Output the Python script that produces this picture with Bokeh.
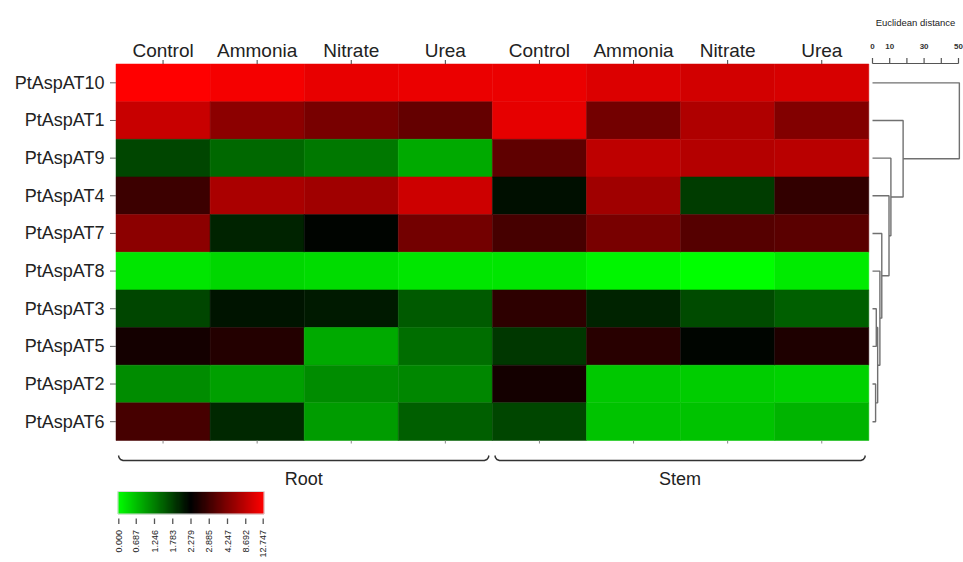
import numpy as np
from bokeh.plotting import figure
from bokeh.models import Range1d
from bokeh.core.properties import value
from bokeh.embed import file_html
from bokeh.resources import INLINE

# ---------------------------------------------------------------- data
genes = ["PtAspAT10", "PtAspAT1", "PtAspAT9", "PtAspAT4", "PtAspAT7",
         "PtAspAT8", "PtAspAT3", "PtAspAT5", "PtAspAT2", "PtAspAT6"]
tissues = ["Root", "Stem"]
treatments = ["Control", "Ammonia", "Nitrate", "Urea"]

# relative expression, one list per tissue/treatment column (gene order above)
root_control = [12.75, 9.25, 1.73, 2.85, 5.12, 0.27, 1.73, 2.47, 1.14, 3.02]
root_ammonia = [12.11, 5.12, 1.44, 7.21, 2.01, 0.43, 2.12, 2.61, 0.96, 1.97]
root_nitrate = [11.28, 4.09, 1.31, 6.51, 2.25, 0.38, 2.08, 0.87, 1.14, 1.00]
root_urea = [11.47, 3.66, 0.87, 9.57, 3.98, 0.27, 1.56, 1.39, 1.18, 1.52]
stem_control = [11.47, 11.16, 3.55, 2.16, 3.02, 0.27, 2.71, 1.85, 2.47, 1.73]
stem_ammonia = [10.52, 3.98, 8.60, 6.51, 4.09, 0.11, 2.01, 2.66, 0.59, 0.65]
stem_nitrate = [9.88, 7.56, 7.91, 1.81, 3.34, 0.00, 1.69, 2.24, 0.54, 0.65]
stem_urea = [10.20, 4.42, 8.26, 2.75, 3.45, 0.22, 1.52, 2.56, 0.49, 0.79]

# colour key break points (green -> black -> red)
scale_breaks = [0.000, 0.687, 1.246, 1.783, 2.279, 2.885, 4.247, 8.692, 12.747]
scale_labels = ["0.000", "0.687", "1.246", "1.783", "2.279",
                "2.885", "4.247", "8.692", "12.747"]

# hierarchical clustering of the genes (rows indexed in display order,
# merged clusters numbered from len(genes) upward)
link_left = [8, 6, 11, 5, 4, 3, 2, 1, 0]
link_right = [9, 7, 10, 12, 13, 14, 15, 16, 17]
link_dist = [1.8, 2.2, 3.0, 4.3, 5.4, 9.6, 10.7, 17.8, 50.5]

dist_ticks = [0, 10, 20, 30, 40, 50]
dist_tick_labels = ["0", "10", "", "30", "", "50"]

# ---------------------------------------------------------------- layout
W, H = 963, 562
HM_LEFT, HM_TOP = 115.5, 63.5
CELL_W, CELL_H = 94.1, 37.65
DEND_X0, DEND_PX = 872.0, 1.72
CB_LEFT, CB_RIGHT, CB_TOP, CB_BOTTOM = 117.5, 263.5, 491.0, 513.5

FONT = value("Liberation Sans")
TEXT_COLOR = "#222222"

columns = [root_control, root_ammonia, root_nitrate, root_urea,
           stem_control, stem_ammonia, stem_nitrate, stem_urea]
col_names = treatments * len(tissues)


def scale_pos(v):
    """Position (0..1) of a value on the colour key."""
    return np.interp(v, scale_breaks, np.linspace(0, 1, len(scale_breaks)))


def key_color(t):
    if t < 0.5:
        g = int(round(255 * (1 - 2 * t)))
        return "#%02x%02x%02x" % (0, g, 0)
    r = int(round(255 * (2 * t - 1)))
    return "#%02x%02x%02x" % (r, 0, 0)


def dist_x(d):
    return DEND_X0 + d * DEND_PX


def col_center(i):
    return HM_LEFT + (i + 0.5) * CELL_W


def row_center(j):
    return HM_TOP + (j + 0.5) * CELL_H


p = figure(width=W, height=H, output_backend="svg", toolbar_location=None,
           x_range=Range1d(0, W), y_range=Range1d(H, 0),
           min_border=0, outline_line_color=None,
           background_fill_color="white", border_fill_color="white")
p.xaxis.visible = False
p.yaxis.visible = False
p.xgrid.visible = False
p.ygrid.visible = False

# ---------------------------------------------------------------- heatmap
left, right, top, bottom, colors = [], [], [], [], []
for i, col in enumerate(columns):
    for j, v in enumerate(col):
        left.append(HM_LEFT + i * CELL_W)
        right.append(HM_LEFT + (i + 1) * CELL_W)
        top.append(HM_TOP + j * CELL_H)
        bottom.append(HM_TOP + (j + 1) * CELL_H)
        colors.append(key_color(float(scale_pos(v))))
p.quad(left=left, right=right, top=top, bottom=bottom,
       fill_color=colors, line_color=colors, line_width=0.5)

hm_bottom = HM_TOP + len(genes) * CELL_H

# column labels and tick marks
cx = [col_center(i) for i in range(len(columns))]
p.text(x=cx, y=[50] * len(cx), text=col_names, text_font=FONT,
       text_font_size="19px", text_align="center", text_baseline="middle",
       text_color=TEXT_COLOR)
p.segment(x0=cx, y0=[59.5] * len(cx), x1=cx, y1=[HM_TOP] * len(cx),
          line_color="#444444", line_width=1)
p.segment(x0=cx, y0=[hm_bottom] * len(cx), x1=cx, y1=[hm_bottom + 3] * len(cx),
          line_color="#888888", line_width=1)

# row labels and tick marks
ry = [row_center(j) for j in range(len(genes))]
p.text(x=[104] * len(ry), y=ry, text=genes, text_font=FONT,
       text_font_size="18px", text_align="right", text_baseline="middle",
       text_color=TEXT_COLOR)
p.segment(x0=[109.5] * len(ry), y0=ry, x1=[HM_LEFT] * len(ry), y1=ry,
          line_color="#666666", line_width=1)

# tissue braces
n_t = len(treatments)
for k, name in enumerate(tissues):
    x0 = HM_LEFT + k * n_t * CELL_W + 3
    x1 = HM_LEFT + (k + 1) * n_t * CELL_W - 4
    by = 460
    bx = [x0 - 0.5, x0, x0 + 1.5, x0 + 4, x1 - 4, x1 - 1.5, x1, x1 + 0.5]
    byy = [455, 457, 459, by, by, 459, 457, 455]
    p.line(bx, byy, line_color="#333333", line_width=1.4)
    p.text(x=[(x0 + x1) / 2], y=[478], text=[name], text_font=FONT,
           text_font_size="18px", text_align="center", text_baseline="middle",
           text_color=TEXT_COLOR)

# ---------------------------------------------------------------- dendrogram
node_y = list(ry)
node_d = [0.0] * len(genes)
xs, ys = [], []
for a, b, d in zip(link_left, link_right, link_dist):
    xs.append([dist_x(node_d[a]), dist_x(d), dist_x(d), dist_x(node_d[b])])
    ys.append([node_y[a], node_y[a], node_y[b], node_y[b]])
    node_y.append((node_y[a] + node_y[b]) / 2)
    node_d.append(d)
p.multi_line(xs=xs, ys=ys, line_color="#707070", line_width=1.4)

# distance scale
scale_y = 63.0
p.line([dist_x(dist_ticks[0]), dist_x(dist_ticks[-1])], [scale_y, scale_y],
       line_color="#555555", line_width=1.2)
tx = [dist_x(t) for t in dist_ticks]
p.segment(x0=tx, y0=[scale_y] * len(tx), x1=tx, y1=[57.5] * len(tx),
          line_color="#555555", line_width=1.2)
p.text(x=tx, y=[46] * len(tx), text=dist_tick_labels, text_font=FONT,
       text_font_size="8px", text_font_style="bold", text_align="center",
       text_baseline="middle", text_color="#333333")
p.text(x=[(tx[0] + tx[-1]) / 2], y=[22], text=["Euclidean distance"],
       text_font=FONT, text_font_size="9.5px", text_align="center",
       text_baseline="middle", text_color="#222222")

# ---------------------------------------------------------------- colour key
n_steps = 146
edges = np.linspace(CB_LEFT, CB_RIGHT, n_steps + 1)
grad_colors = [key_color((k + 0.5) / n_steps) for k in range(n_steps)]
p.quad(left=edges[:-1], right=edges[1:], top=[CB_TOP] * n_steps,
       bottom=[CB_BOTTOM] * n_steps, fill_color=grad_colors,
       line_color=grad_colors, line_width=0.5)
p.quad(left=[CB_LEFT], right=[CB_RIGHT], top=[CB_TOP], bottom=[CB_BOTTOM],
       fill_color=None, line_color="#d8d8d8", line_width=1)

kx = [CB_LEFT + f * (CB_RIGHT - CB_LEFT) + (0.8 if f == 0 else (-0.8 if f == 1 else 0))
      for f in scale_pos(np.array(scale_breaks))]
p.segment(x0=kx, y0=[518] * len(kx), x1=kx, y1=[523.5] * len(kx),
          line_color="#555555", line_width=1.3)
p.text(x=kx, y=[529.5] * len(kx), text=scale_labels, text_font=FONT,
       text_font_size="9px", text_align="right", text_baseline="middle",
       angle=np.pi / 2, text_color="#222222")

open("out.html", "w").write(file_html(p, INLINE))
